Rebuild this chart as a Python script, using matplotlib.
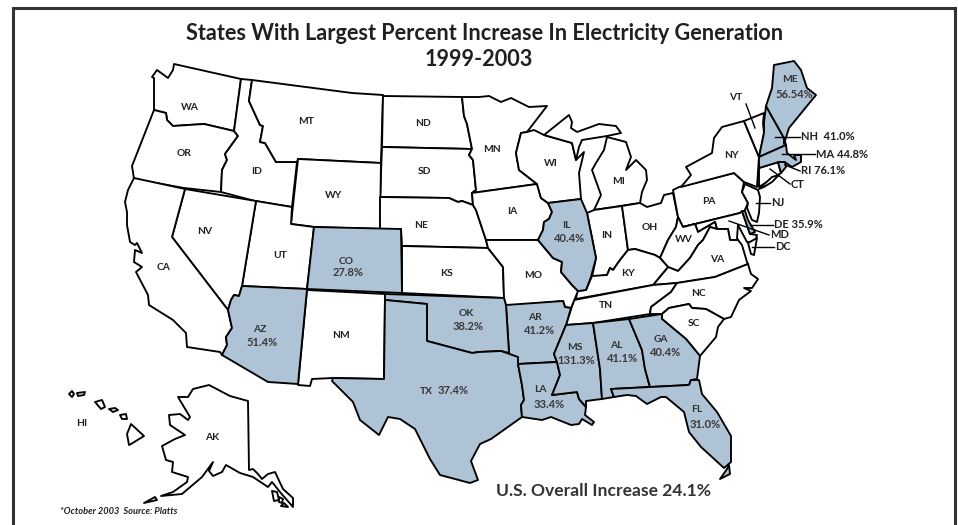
import matplotlib
matplotlib.use("Agg")
import matplotlib.pyplot as plt

plt.rcParams['font.family'] = ['Lato', 'DejaVu Sans']

# state outlines, in image pixels
WA = [(174,64),(241,79),(234,131),(204,124),(173,126),(167,120),(166,113),(154,110),(154,78),(152,77),(157,70),(168,78),(173,70)]
OR = [(154,110),(166,113),(167,120),(173,126),(204,124),(234,131),(238,136),(225,154),(227,160),(222,170),(221,192),(184,188),(134,179),(132,166)]
ID = [(241,79),(252,80),(249,101),(260,125),(263,126),(260,142),(265,143),(276,162),(297,162),(292,207),(255,201),(221,192),(222,170),(227,160),(225,154),(238,136),(234,131)]
MT = [(252,80),(352,93),(383,95),(381,163),(298,159),(297,162),(276,162),(265,143),(260,142),(263,126),(260,125),(249,101)]
ND = [(383,96),(462,97),(464,116),(467,124),(472,149),(382,147)]
SD = [(382,147),(472,149),(469,155),(473,160),(476,190),(472,193),(473,205),(462,201),(458,202),(449,198),(380,197)]
WY = [(298,159),(381,163),(380,229),(314,227),(291,224)]
NE = [(380,197),(449,198),(458,202),(462,201),(473,205),(476,210),(486,240),(488,248),(402,246),(401,229),(380,229)]
KS = [(402,246),(488,248),(503,267),(504,298),(402,293)]
CO = [(314,227),(401,229),(402,293),(307,289)]
NM = [(307,290),(385,294),(384,379),(333,378),(312,379),(310,386),(298,385)]
AZ = [(242,286),(307,289),(298,384),(268,382),(222,355),(227,345),(226,337),(232,328),(228,310),(231,300),(234,295),(239,296)]
UT = [(292,207),(291,224),(314,227),(307,289),(242,286),(256,201)]
NV = [(185,189),(256,201),(242,286),(239,296),(234,295),(231,300),(228,310),(172,237)]
CA = [(134,178),(185,189),(172,237),(228,310),(232,328),(226,337),(227,345),(222,355),(220,352),(187,347),(186,333),(173,320),(149,305),(148,295),(136,272),(142,267),(134,262),(135,250),(142,253),(137,243),(135,245),(130,242),(127,225),(127,212),(125,202),(128,190)]
MN = [(462,97),(479,97),(489,96),(501,102),(511,98),(529,107),(547,106),(527,132),(521,133),(516,153),(519,170),(537,184),(472,193),(476,190),(473,160),(469,155),(472,149),(467,124),(464,116)]
IA = [(472,193),(537,184),(541,198),(548,203),(552,212),(549,219),(544,222),(543,230),(538,240),(486,240),(476,210),(473,205)]
IL = [(548,203),(581,199),(587,213),(593,243),(596,258),(591,277),(586,290),(578,291),(572,285),(561,272),(562,262),(553,258),(538,240),(543,230),(544,222),(549,219),(552,212)]
WI = [(521,133),(516,153),(519,170),(537,184),(541,198),(548,203),(581,199),(579,173),(584,152),(576,160),(572,143),(544,135),(534,130),(527,132)]
MI_UP = [(544,135),(569,115),(572,122),(571,128),(577,132),(599,124),(616,126),(621,133),(607,136),(582,140),(579,147),(576,160),(572,143)]
MI_LP = [(607,137),(626,142),(631,157),(626,170),(636,160),(646,170),(647,180),(642,192),(640,203),(594,210),(601,195),(592,170),(596,163),(604,150)]
IN = [(587,213),(594,210),(622,206),(628,250),(620,260),(613,270),(610,268),(607,275),(592,277),(596,258),(593,243)]
OH = [(622,206),(640,203),(647,207),(661,203),(664,195),(673,193),(678,217),(676,227),(668,240),(660,258),(655,255),(635,249),(628,250)]
PA = [(673,190),(679,187),(734,173),(744,182),(742,192),(748,203),(744,212),(683,227),(678,217)]
NY = [(681,187),(691,175),(686,167),(712,153),(714,138),(722,127),(744,121),(759,157),(757,187),(744,182),(734,173)]
VT = [(744,121),(764,113),(763,123),(764,133),(759,157)]
NH = [(766,106),(784,138),(786,145),(759,157),(764,133),(764,122)]
ME = [(766,106),(772,88),(774,65),(784,63),(794,61),(801,70),(807,88),(816,95),(789,128),(784,144),(784,138)]
MA = [(759,157),(786,145),(787,153),(796,160),(794,155),(801,155),(801,162),(792,167),(786,163),(779,162),(759,168)]
RI = [(778,162),(785,162),(786,167),(781,173)]
CT = [(759,168),(778,162),(781,173),(762,185),(759,187)]
LI = [(759,189),(772,177),(779,175),(772,182),(764,187)]
NJ = [(745,184),(758,190),(760,197),(759,213),(757,222),(752,220),(747,208),(748,203),(742,192)]
DE = [(742,211),(745,211),(748,220),(755,232),(750,234)]
MD = [(683,227),(740,213),(742,211),(750,234),(757,235),(755,242),(747,242),(738,225),(737,238),(738,240),(730,240),(728,229),(717,229),(715,222),(698,232),(695,224)]
WV = [(678,217),(683,227),(695,224),(698,232),(715,222),(717,229),(710,227),(703,240),(698,245),(690,258),(678,271),(668,267),(660,258),(668,240),(676,227)]
VA = [(653,285),(668,267),(678,271),(690,258),(698,245),(703,240),(710,227),(717,229),(728,229),(730,240),(738,240),(742,245),(747,262),(748,264),(715,277),(677,283)]
VA_SHORE = [(748,243),(757,238),(754,255),(751,254)]
KY = [(592,276),(607,275),(610,268),(613,270),(620,260),(628,250),(635,249),(655,255),(660,258),(668,267),(653,285),(576,299),(577,291),(586,290)]
TN = [(574,300),(653,285),(677,283),(671,292),(651,307),(650,314),(593,323),(566,325)]
MO = [(486,240),(538,240),(553,258),(562,262),(561,272),(572,285),(578,291),(571,308),(565,307),(563,301),(506,306),(504,298),(503,267),(488,248)]
AR = [(506,305),(563,301),(565,307),(571,308),(566,325),(554,354),(557,362),(518,364),(509,353)]
OK = [(385,294),(504,298),(506,305),(509,353),(501,351),(479,352),(472,353),(427,341),(427,304),(385,300)]
TX = [(385,300),(427,304),(427,341),(472,353),(479,352),(501,351),(518,357),(518,364),(522,385),(524,400),(521,405),(522,417),(491,439),(480,444),(471,461),(478,480),(470,483),(440,475),(430,459),(415,429),(400,419),(388,417),(379,435),(360,420),(353,402),(332,381),(333,378),(384,379)]
LA = [(518,364),(557,362),(560,375),(552,395),(577,392),(579,399),(586,407),(585,415),(594,422),(592,425),(582,419),(579,424),(571,425),(551,417),(542,420),(522,417),(521,405),(524,400),(522,385)]
MS = [(566,325),(593,323),(600,369),(602,399),(586,401),(586,407),(579,399),(577,392),(552,395),(560,375),(557,362),(554,354)]
AL = [(593,323),(629,319),(642,350),(645,369),(649,384),(650,387),(611,389),(614,397),(602,399),(600,369)]
GA = [(629,319),(662,314),(662,319),(686,339),(700,356),(697,379),(691,380),(689,385),(650,387),(645,369),(642,350)]
FL = [(650,387),(689,385),(691,380),(699,380),(702,394),(717,412),(731,436),(731,462),(724,468),(701,447),(689,432),(684,412),(666,397),(661,397),(647,404),(636,396),(627,395),(614,397),(611,389)]
FL_KEYS = [(729,465),(730,474),(720,479),(727,469)]
NC = [(677,283),(715,277),(748,264),(751,274),(758,279),(752,288),(744,288),(751,291),(739,300),(731,317),(724,319),(706,309),(692,308),(689,304),(669,308),(662,314),(650,314),(651,307),(671,292)]
SC = [(662,314),(669,308),(689,304),(692,308),(706,309),(724,319),(718,327),(716,337),(700,356),(686,339),(662,319)]
AK = [(178,397),(188,397),(193,389),(209,385),(230,396),(248,401),(249,470),(253,469),(258,474),(262,479),(268,474),(275,472),(283,489),(293,498),(293,507),(280,492),(272,482),(268,487),(253,477),(240,473),(226,465),(222,472),(213,476),(209,471),(213,462),(202,477),(182,494),(161,496),(173,492),(187,482),(188,477),(172,472),(173,462),(166,460),(162,446),(175,439),(185,435),(170,425),(169,415),(180,414),(188,420),(190,417)]
AK_KODIAK = [(144,503),(155,497),(157,500)]
AK_SE1 = [(272,491),(277,492),(279,500),(274,501)]
AK_SE2 = [(279,497),(283,499),(282,503),(279,502)]
AK_SE3 = [(281,506),(284,503),(288,507)]
HI_1 = [(69,394),(72,391),(74,394),(72,397)]
HI_2 = [(77,393),(85,392),(84,395),(78,396)]
HI_3 = [(95,402),(102,400),(105,407),(101,409)]
HI_4 = [(109,409),(115,408),(118,410),(113,412)]
HI_5 = [(120,415),(126,414),(127,419),(122,419)]
HI_6 = [(131,424),(144,436),(131,444),(129,445),(127,434)]

white_states = [WA, OR, ID, MT, ND, SD, WY, NE, KS, NM, UT, NV, CA, MN, IA, WI, MI_UP, MI_LP, IN, OH,
                PA, NY, VT, CT, LI, NJ, MD, WV, VA, VA_SHORE, KY, TN, MO, NC, SC, AK, AK_KODIAK,
                AK_SE1, AK_SE2, AK_SE3, HI_1, HI_2, HI_3, HI_4, HI_5, HI_6]
shaded_states = [CO, AZ, IL, NH, ME, MA, RI, DE, AR, OK, TX, LA, MS, AL, GA, FL, FL_KEYS]

title_lines = ["States With Largest Percent Increase In Electricity Generation", "1999-2003"]
plain_labels = ["WA", "OR", "MT", "ID", "WY", "ND", "SD", "NE", "KS", "UT", "NV", "CA", "NM", "HI", "AK",
                "MN", "WI", "MI", "IA", "IN", "OH", "PA", "NY", "WV", "VA", "KY", "MO", "TN", "NC", "SC", "VT"]
plain_pos = [(190,107),(184,154),(306,122),(257,172),(334,195),(423,123),(424,172),(421,225),(447,273),(280,255),
             (205,232),(164,267),(341,336),(82,423),(212,438),(492,150),(551,164),(619,181),(512,211),(607,236),
             (650,227),(709,202),(731,156),(684,240),(717,259),(628,273),(533,275),(606,306),(699,293),(694,323),(736,97)]
shaded_codes = ["CO", "AZ", "OK", "AR", "LA", "MS", "AL", "GA", "FL", "IL", "ME", "TX"]
shaded_values = ["27.8%", "51.4%", "38.2%", "41.2%", "33.4%", "131.3%", "41.1%", "40.4%", "31.0%", "40.4%", "56.54%", "37.4%"]
code_pos = [(346,261),(260,329),(466,313),(535,318),(540,390),(575,348),(616,345),(661,339),(697,410),(566,225),(790,80),(426,391)]
value_pos = [(348,273),(262,343),(468,326),(539,331),(549,404),(576,360),(622,359),(665,352),(705,424),(569,239),(794,95),(453,391)]
callouts = ["NH  41.0%", "MA 44.8%", "RI 76.1%", "CT", "NJ", "DE 35.9%", "MD", "DC"]
callout_lines = [((775,137),(800,137)),((782,154),(815,154)),((785,165),(800,171)),((770,169),(790,184)),
                 ((756,203),(770,203)),((750,225),(773,225)),((729,221),(769,235)),((752,247),(774,247))]
vt_line = ((746,104),(755,128))
overall = "U.S. Overall Increase 24.1%"
source = "*October 2003  Source: Platts"

ink = "#231f20"
blue = "#aec3d5"

fig = plt.figure(figsize=(9.58,5.25), dpi=100)
ax = fig.add_axes([0,0,1,1])
ax.set_xlim(0,958)
ax.set_ylim(525,0)
ax.set_axis_off()

# outer frame, it has no bottom edge in the picture
ax.plot([13,13,955,955], [525,8,8,525], color="#333333", lw=2.2, solid_joinstyle="miter", zorder=1)

for st in white_states:
    ax.fill(*zip(*st), facecolor="white", edgecolor="black", lw=1.35, joinstyle="round", zorder=2)
for st in shaded_states:
    ax.fill(*zip(*st), facecolor=blue, edgecolor="black", lw=1.35, joinstyle="round", zorder=3)

ax.text(485, 33, title_lines[0], ha="center", va="center", fontsize=15.6, fontweight="bold", color=ink, zorder=5)
ax.text(479, 60, title_lines[1], ha="center", va="center", fontsize=15.6, fontweight="bold", color=ink, zorder=5)

for lab, pos in zip(plain_labels, plain_pos):
    ax.text(pos[0], pos[1], lab, ha="center", va="center", fontsize=7.4, fontweight="bold", color=ink, zorder=5)
for lab, pos in zip(shaded_codes, code_pos):
    ax.text(pos[0], pos[1], lab, ha="center", va="center", fontsize=7.4, fontweight="bold", color="#333333", zorder=5)
for lab, pos in zip(shaded_values, value_pos):
    ax.text(pos[0], pos[1], lab, ha="center", va="center", fontsize=8, fontweight="bold", color="#3a3a3a", zorder=5)

ax.plot([vt_line[0][0],vt_line[1][0]], [vt_line[0][1],vt_line[1][1]], color="black", lw=1.0, zorder=4)
for lab, seg in zip(callouts, callout_lines):
    ax.plot([seg[0][0],seg[1][0]], [seg[0][1],seg[1][1]], color="black", lw=1.0, zorder=4)
    ax.text(seg[1][0]+1, seg[1][1], lab, ha="left", va="center", fontsize=8, fontweight="bold", color=ink, zorder=5)

ax.text(496, 491, overall, ha="left", va="center", fontsize=12.6, fontweight="bold", color="#333333", zorder=5)
ax.text(60, 511, source, ha="left", va="center", fontsize=6.7, style="italic", fontweight="bold", color=ink, zorder=5)

fig.savefig("out.png", dpi=100)
